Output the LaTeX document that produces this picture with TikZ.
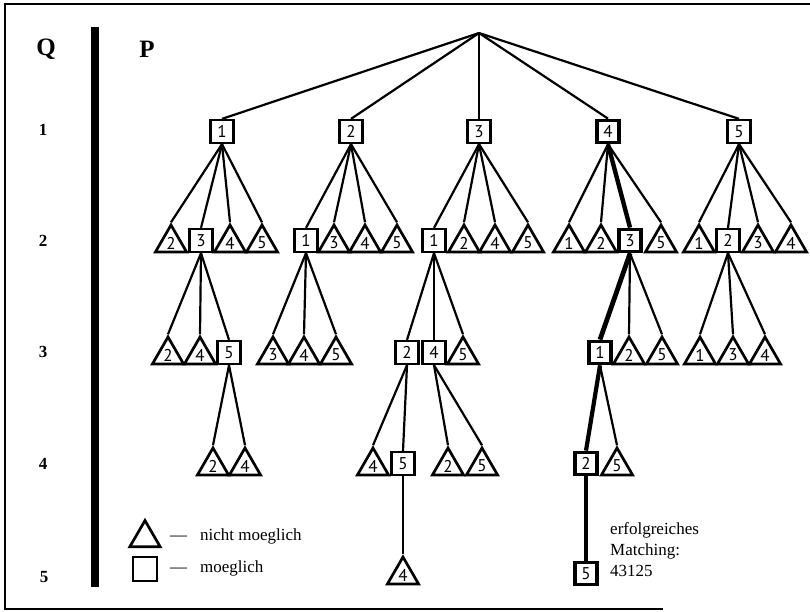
\documentclass[tikz,border=0pt]{standalone}
\usepackage{fontspec}
\setmainfont{Liberation Serif}
\newfontfamily\digitfont{PT Sans}
\usetikzlibrary{shapes.geometric}
\tikzset{
  digits/.style={font=\digitfont\fontsize{17}{17}\selectfont},
  sq/.style={draw, rectangle, line width=2.3pt, minimum size=23pt, inner sep=0pt, digits},
  sqb/.style={sq, line width=3.8pt, minimum size=22pt},
  tri/.style={draw, regular polygon, regular polygon sides=3, line width=2.7pt, minimum size=36pt, inner sep=0pt, line join=miter, digits},
  edge/.style={line width=2.2pt},
  edgeb/.style={line width=#1},
  frameline/.style={line width=1.8pt},
  headlbl/.style={font=\bfseries\fontsize{25}{25}\selectfont},
  rowlbl/.style={font=\bfseries\fontsize{17}{17}\selectfont},
  legtext/.style={font=\fontsize{17}{17}\selectfont, inner sep=0pt}
}
\begin{document}
\begin{tikzpicture}[x=1pt,y=-1pt]
\useasboundingbox (0,0) rectangle (810,611);
% frame
\draw[frameline] (810,4) -- (5,4) -- (5,609) -- (663,609);
% thick bar
\fill (91,27) rectangle (99,587);
% headers
\node[headlbl] (Q) at (46,49) {Q};
\node[headlbl] (P) at (147,49) {P};
\node[rowlbl] (r1) at (43,130) {1};
\node[rowlbl] (r2) at (43,241) {2};
\node[rowlbl] (r3) at (43,352) {3};
\node[rowlbl] (r4) at (43,464) {4};
\node[rowlbl] (r5) at (44,577) {5};
% root
\coordinate (root) at (479,33);
% level 1
\node[sq] (n1) at (222,131.5) {1};
\node[sq] (n2) at (351,131.5) {2};
\node[sq] (n3) at (479,131.5) {3};
\node[sqb] (n4) at (608,131.5) {4};
\node[sq] (n5) at (739,131.5) {5};
% subtree 1
\node[tri] (t12) at (171,243) {2};
\node[sq]  (n13) at (201,240.5) {3};
\node[tri] (t14) at (230,243) {4};
\node[tri] (t15) at (262,243) {5};
\node[tri] (t132) at (168,355) {2};
\node[tri] (t134) at (200,355) {4};
\node[sq]  (n135) at (229,352.5) {5};
\node[tri] (t1352) at (213,466) {2};
\node[tri] (t1354) at (245,466) {4};
% subtree 2
\node[sq]  (n21) at (306,240.5) {1};
\node[tri] (t23) at (334,243) {3};
\node[tri] (t24) at (365,243) {4};
\node[tri] (t25) at (397,243) {5};
\node[tri] (t213) at (273,355) {3};
\node[tri] (t214) at (304,355) {4};
\node[tri] (t215) at (336,355) {5};
% subtree 3
\node[sq]  (n31) at (434,240.5) {1};
\node[tri] (t32) at (464,243) {2};
\node[tri] (t34) at (495,243) {4};
\node[tri] (t35) at (528,243) {5};
\node[sq]  (n312) at (407,352.5) {2};
\node[sq]  (n314) at (434,352.5) {4};
\node[tri] (t315) at (463,355) {5};
\node[tri] (t3124) at (373,466) {4};
\node[sq]  (n3125) at (403,463.5) {5};
\node[tri] (t3142) at (448,466) {2};
\node[tri] (t3145) at (482,466) {5};
\node[tri] (t31254) at (403,575) {4};
% subtree 4
\node[tri] (t41) at (569,243) {1};
\node[tri] (t42) at (601,243) {2};
\node[sqb] (n43) at (630,240.5) {3};
\node[tri] (t45) at (661,243) {5};
\node[sqb] (n431) at (600,352.5) {1};
\node[tri] (t432) at (629,355) {2};
\node[tri] (t435) at (662,355) {5};
\node[sqb] (n4312) at (586,463.5) {2};
\node[tri] (t4315) at (617,466) {5};
\node[sqb] (n43125) at (586,573.5) {5};
% subtree 5
\node[tri] (t51) at (699,243) {1};
\node[sq]  (n52) at (728,240.5) {2};
\node[tri] (t53) at (758,243) {3};
\node[tri] (t54) at (791,243) {4};
\node[tri] (t521) at (700,355) {1};
\node[tri] (t523) at (733,355) {3};
\node[tri] (t524) at (765,355) {4};
% edges
\foreach \c in {n1,n2,n3,n4,n5} \draw[edge] (root) -- (\c.north);
\foreach \c in {t12,t14,t15} \draw[edge] (n1.south) -- (\c.corner 1);
\draw[edge] (n1.south) -- (n13.north);
\foreach \c in {t132,t134} \draw[edge] (n13.south) -- (\c.corner 1);
\draw[edge] (n13.south) -- (n135.north);
\foreach \c in {t1352,t1354} \draw[edge] (n135.south) -- (\c.corner 1);
\draw[edge] (n2.south) -- (n21.north);
\foreach \c in {t23,t24,t25} \draw[edge] (n2.south) -- (\c.corner 1);
\foreach \c in {t213,t214,t215} \draw[edge] (n21.south) -- (\c.corner 1);
\draw[edge] (n3.south) -- (n31.north);
\foreach \c in {t32,t34,t35} \draw[edge] (n3.south) -- (\c.corner 1);
\draw[edge] (n31.south) -- (n312.north);
\draw[edge] (n31.south) -- (n314.north);
\draw[edge] (n31.south) -- (t315.corner 1);
\draw[edge] (n312.south) -- (t3124.corner 1);
\draw[edge] (n312.south) -- (n3125.north);
\foreach \c in {t3142,t3145} \draw[edge] (n314.south) -- (\c.corner 1);
\draw[edge] (n3125.south) -- (t31254.corner 1);
\foreach \c in {t41,t42,t45} \draw[edge] (n4.south) -- (\c.corner 1);
\draw[edgeb=4.4pt] (n4.south) -- (n43.north);
\foreach \c in {t432,t435} \draw[edge] (n43.south) -- (\c.corner 1);
\draw[edgeb=4.8pt] (n43.south) -- (n431.north);
\draw[edge] (n431.south) -- (t4315.corner 1);
\draw[edgeb=4.2pt] (n431.south) -- (n4312.north);
\draw[edgeb=3.2pt] (n4312.south) -- (n43125.north);
\foreach \c in {t51,t53,t54} \draw[edge] (n5.south) -- (\c.corner 1);
\draw[edge] (n5.south) -- (n52.north);
\foreach \c in {t521,t523,t524} \draw[edge] (n52.south) -- (\c.corner 1);
% legend
\node[tri, minimum size=35pt] (legtri) at (145,538) {};
\node[sq, minimum size=24pt] (legsq) at (145,569) {};
\node[legtext, anchor=base west] (leg1) at (170,540) {—\hspace{13pt}nicht moeglich};
\node[legtext, anchor=base west] (leg2) at (170,572) {—\hspace{13pt}moeglich};
% result text
\node[legtext, anchor=base west] (res1) at (610,534) {erfolgreiches};
\node[legtext, anchor=base west] (res2) at (610,555) {Matching:};
\node[legtext, anchor=base west] (res3) at (610,576) {43125};
\end{tikzpicture}
\end{document}
